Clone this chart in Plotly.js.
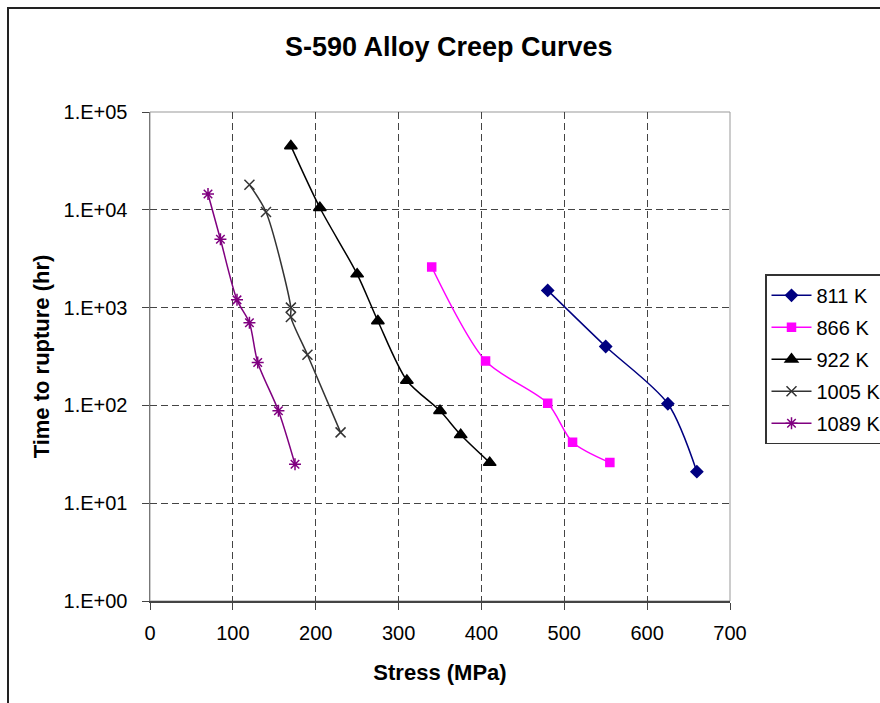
<!DOCTYPE html>
<html>
<head>
<meta charset="utf-8">
<script src="https://cdn.plot.ly/plotly-3.0.1.min.js"></script>
<style>
  html, body { margin: 0; padding: 0; background: #fff; }
  #wrap { position: relative; width: 880px; height: 703px; overflow: hidden; }
  #chart { width: 880px; height: 703px; }
  #frame { position: absolute; left: 7px; top: 7px; width: 900px; height: 720px;
           border-left: 2px solid #222; border-top: 2px solid #222; pointer-events: none; }
</style>
</head>
<body>
<div id="wrap">
  <div id="chart"></div>
  <div id="frame"></div>
</div>
<script>
// ---- data ----
const seriesNames = ["811 K", "866 K", "922 K", "1005 K", "1089 K"];

const stress811 = [480, 550, 625, 660];
const time811   = [1500, 400, 104, 21];

const stress866 = [340, 405, 480, 510, 555];
const time866   = [2600, 285, 105, 42, 26];

const stress922 = [170, 205, 250, 275, 310, 350, 375, 410];
const time922   = [45000, 10500, 2200, 730, 180, 88, 50, 26];

const stress1005 = [120, 140, 170, 170, 190, 230];
const time1005   = [18000, 9500, 1000, 800, 330, 53];

const stress1089 = [70, 85, 105, 120, 130, 155, 175];
const time1089   = [14500, 5000, 1200, 700, 275, 88, 25];

const yTickVals = [1, 10, 100, 1000, 10000, 100000];
const yTickText = ["1.E+00", "1.E+01", "1.E+02", "1.E+03", "1.E+04", "1.E+05"];

// ---- styles ----
const FONT = '"Liberation Sans", Arial, sans-serif';
function mk(name, x, y, color, symbol, size, group) {
  return {
    type: 'scatter', mode: 'lines+markers', name: name, x: x, y: y,
    legendgroup: group,
    line: { color: color, width: 1.5, shape: 'spline', smoothing: 0.8 },
    marker: { color: color, symbol: symbol, size: size,
              line: { color: color, width: 1.5 } }
  };
}

const traces = [
  mk(seriesNames[0], stress811, time811, '#000080', 'diamond', 9, 'a'),
  mk(seriesNames[1], stress866, time866, '#FF00FF', 'square', 8, 'b'),
  mk(seriesNames[2], stress922, time922, '#000000', 'triangle-up', 11, 'c'),
  mk(seriesNames[3], stress1005, time1005, '#333333', 'x-thin-open', 10, 'd'),
  mk(seriesNames[4], stress1089, time1089, '#800080', 'asterisk-open', 10, 'e')
];

const gridColor = '#444';
const layout = {
  width: 880, height: 703,
  paper_bgcolor: '#fff', plot_bgcolor: '#fff',
  margin: { l: 150, r: 150, t: 112, b: 102, autoexpand: false },
  font: { family: FONT, size: 20, color: '#000' },
  title: { text: '<b>S-590 Alloy Creep Curves</b>', font: { family: FONT, size: 27, color: '#000' },
           x: 0.51, xref: 'container', xanchor: 'center',
           y: 1 - 47 / 703, yref: 'container', yanchor: 'middle' },
  xaxis: {
    range: [0, 700], dtick: 100, tick0: 0,
    showgrid: true, gridcolor: gridColor, gridwidth: 1, griddash: '7px,4px',
    showline: true, linecolor: '#444', linewidth: 1.5, mirror: false,
    ticks: 'outside', ticklen: 7, tickcolor: '#444', tickwidth: 1,
    ticklabelstandoff: 6,
    zeroline: false,
    tickfont: { family: FONT, size: 20, color: '#000' },
    title: { text: '<b>Stress (MPa)</b>', font: { family: FONT, size: 22, color: '#000' }, standoff: 22 }
  },
  yaxis: {
    type: 'log', range: [0, 5],
    tickvals: yTickVals, ticktext: yTickText,
    showgrid: true, gridcolor: gridColor, gridwidth: 1, griddash: '7px,4px',
    showline: true, linecolor: '#777', linewidth: 1.5, mirror: false,
    ticks: 'outside', ticklen: 7, tickcolor: '#444', tickwidth: 1,
    ticklabelstandoff: 10,
    zeroline: false,
    tickfont: { family: FONT, size: 20, color: '#000' },
    title: { text: '<b>Time to rupture (hr)</b>', font: { family: FONT, size: 22, color: '#000' }, standoff: 8 }
  },
  showlegend: true,
  legend: {
    x: (765 - 150) / 580, xref: 'paper', xanchor: 'left',
    y: (600 - 274) / 488, yref: 'paper', yanchor: 'top',
    bgcolor: '#fff', bordercolor: '#333', borderwidth: 1.5,
    font: { family: FONT, size: 20, color: '#000' },
    tracegroupgap: 3, itemwidth: 40
  },
  shapes: [
    { type: 'rect', xref: 'paper', yref: 'paper', x0: 0, x1: 1, y0: 0, y1: 1,
      line: { color: '#999', width: 1 }, layer: 'below' }
  ]
};

Plotly.newPlot('chart', traces, layout, { staticPlot: true, displayModeBar: false });
</script>
</body>
</html>
